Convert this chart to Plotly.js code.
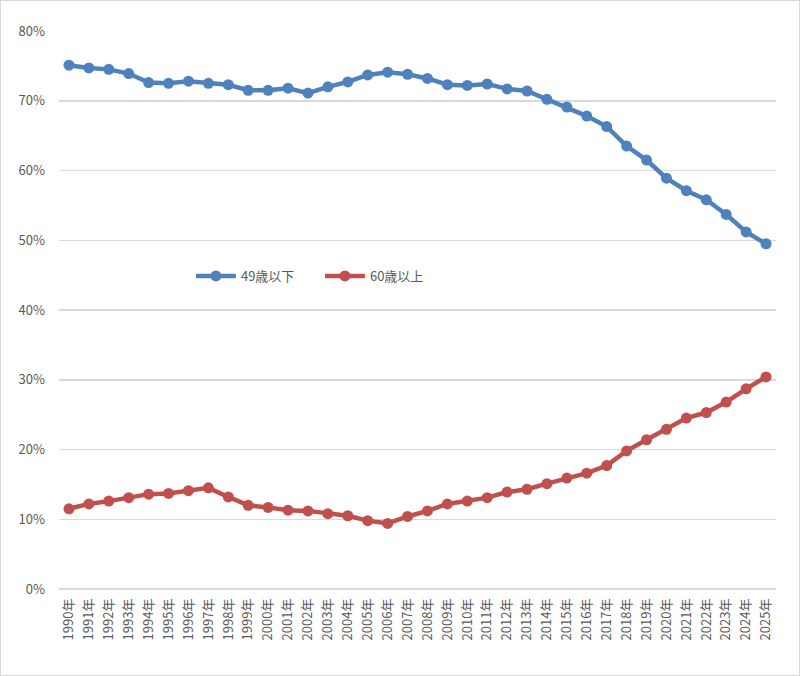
<!DOCTYPE html>
<html>
<head>
<meta charset="utf-8">
<script src="https://cdn.plot.ly/plotly-3.0.1.min.js"></script>
<style>
html,body{margin:0;padding:0;background:#fff;}
#wrap{position:relative;width:800px;height:676px;}
#chart{width:800px;height:676px;}
#frame{position:absolute;left:0;top:0;width:800px;height:676px;box-sizing:border-box;border:1px solid #d9d9d9;pointer-events:none;}
</style>
</head>
<body>
<div id="wrap"><div id="chart"></div><div id="frame"></div></div>
<script>
const years = ["1990年","1991年","1992年","1993年","1994年","1995年","1996年","1997年","1998年","1999年",
"2000年","2001年","2002年","2003年","2004年","2005年","2006年","2007年","2008年","2009年",
"2010年","2011年","2012年","2013年","2014年","2015年","2016年","2017年","2018年","2019年",
"2020年","2021年","2022年","2023年","2024年","2025年"];
const under49 = [0.751,0.747,0.745,0.739,0.726,0.725,0.728,0.725,0.723,0.715,
0.715,0.718,0.711,0.720,0.727,0.737,0.741,0.738,0.732,0.723,
0.722,0.724,0.717,0.714,0.702,0.691,0.678,0.663,0.635,0.615,
0.589,0.571,0.558,0.537,0.512,0.495];
const over60 = [0.115,0.122,0.126,0.131,0.136,0.137,0.141,0.145,0.132,0.120,
0.117,0.113,0.112,0.108,0.105,0.098,0.094,0.104,0.112,0.122,
0.126,0.131,0.139,0.143,0.151,0.159,0.166,0.177,0.198,0.214,
0.229,0.245,0.253,0.268,0.287,0.304];
const seriesNames = ["49歳以下","60歳以上"];
const colors = ["#4F81BD","#C0504D"];

const font = "'Noto Sans CJK JP', 'Noto Sans', sans-serif";
const traces = [under49, over60].map((v,i)=>({
  type:'scatter', mode:'lines+markers', x:years, y:v, name:seriesNames[i],
  line:{color:colors[i], width:4.5},
  marker:{color:colors[i], size:11}
}));

const layout = {
  width:800, height:676,
  margin:{l:59, r:24, t:31, b:87},
  paper_bgcolor:'#fff', plot_bgcolor:'#fff',
  font:{family:font, color:'#595959', size:13},
  showlegend:true,
  legend:{orientation:'h', x:0.184, y:0.561, xanchor:'left', yanchor:'middle',
    font:{family:font, size:13, color:'#595959'}, bgcolor:'rgba(0,0,0,0)', itemwidth:40,
    entrywidth:74, entrywidthmode:'pixels'},
  xaxis:{type:'category', range:[-0.5, 35.5], tickangle:-90, showgrid:false, zeroline:false, showline:false,
    ticks:'', tickfont:{size:13, color:'#595959'}, ticklabelstandoff:6, fixedrange:true},
  yaxis:{range:[0,0.8], dtick:0.1, tickformat:'.0%', showgrid:true, gridcolor:'#d9d9d9', gridwidth:1.5,
    zeroline:true, zerolinecolor:'#d9d9d9', zerolinewidth:1.5, showline:false, ticks:'',
    tickfont:{size:13, color:'#595959'}, ticklabelstandoff:13, fixedrange:true}
};
Plotly.newPlot('chart', traces, layout, {displayModeBar:false, staticPlot:true});
</script>
</body>
</html>
